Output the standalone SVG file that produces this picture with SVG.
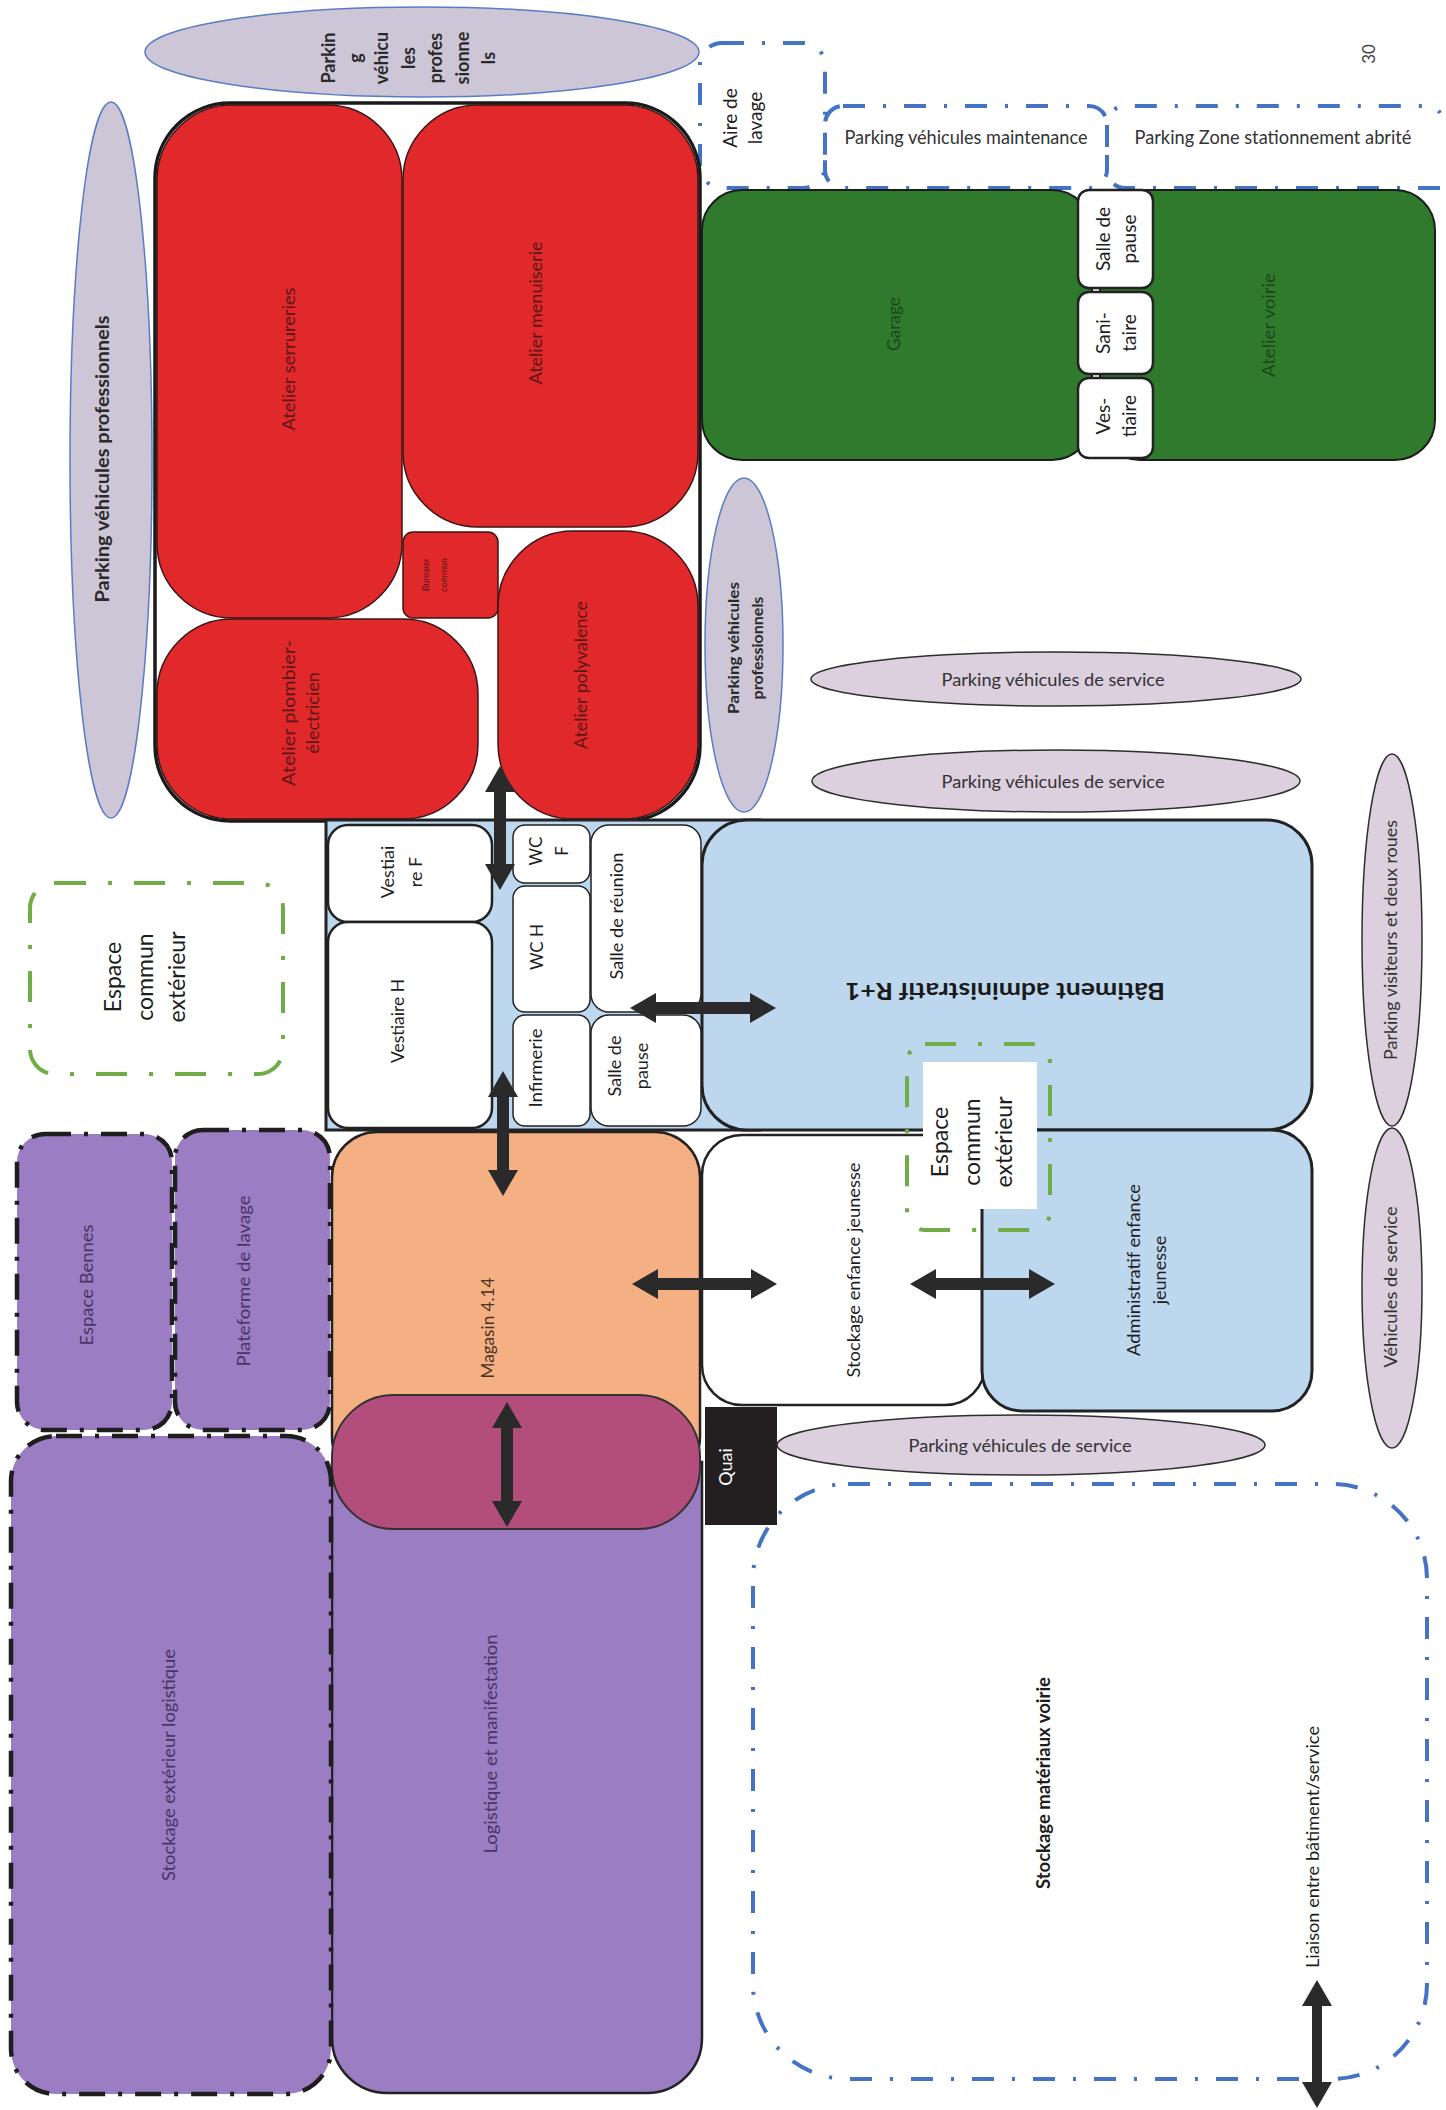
<svg xmlns="http://www.w3.org/2000/svg" width="1446" height="2110" viewBox="0 0 1446 2110">
<defs>
<style>
.t{font-family:Lato,'Liberation Sans',sans-serif;text-anchor:middle;dominant-baseline:central;font-size:18px;fill:#1e1e1e}
.b{font-weight:bold}
.red{fill:#e1282a;stroke:#3b1515;stroke-width:1.5}
.rt{fill:#5e1717}
.grn{fill:#2f7a2d;stroke:#1c1c1c;stroke-width:2}
.gt{fill:#1b481b}
.wbox{fill:#fff;stroke:#222;stroke-width:2}
.lb{fill:#bdd7ee;stroke:#222;stroke-width:3}
.pur{fill:#9b7dc3}
.pdash{stroke:#1e1e1e;stroke-width:4.5;stroke-dasharray:26 13 4 13}
.pt{fill:#4a3366}
.bdash{fill:none;stroke:#4472c4;stroke-width:4;stroke-dasharray:22 18 3 18}
.gdash{fill:none;stroke:#70ad47;stroke-width:4;stroke-dasharray:31 22 4 22}
.pro{fill:#cdc6d7;stroke:#5a7cc4;stroke-width:1.5}
.srv{fill:#dccfde;stroke:#2e2e2e;stroke-width:1.5}
.arr{stroke:#2a2a2a;stroke-width:12;fill:none}
</style>
<marker id="ah" markerUnits="userSpaceOnUse" markerWidth="26" markerHeight="30" refX="0" refY="15" orient="auto-start-reverse" viewBox="0 0 26 30"><path d="M0,0 L26,15 L0,30 Z" fill="#2a2a2a"/></marker>
</defs>
<rect width="1446" height="2110" fill="#fff"/>

<g id="page-number"><text class="t" transform="translate(1368 54) rotate(-90)" style="fill:#444;font-size:17px">30</text></g>

<g id="parking-pro-top">
<ellipse class="pro" cx="422" cy="52" rx="277" ry="45"/>
<text class="t b" transform="translate(408 58) rotate(-90)" style="font-size:18px;fill:#2a2a2a"><tspan x="0" dy="-80">Parkin</tspan><tspan x="0" dy="26.7">g</tspan><tspan x="0" dy="26.7">véhicu</tspan><tspan x="0" dy="26.7">les</tspan><tspan x="0" dy="26.7">profes</tspan><tspan x="0" dy="26.7">sionne</tspan><tspan x="0" dy="26.7">ls</tspan></text>
</g>

<g id="parking-pro-left">
<ellipse class="pro" cx="111" cy="460" rx="41" ry="358"/>
<text class="t b" transform="translate(102 459) rotate(-90)" style="font-size:18px;fill:#2a2a2a" textLength="287" lengthAdjust="spacingAndGlyphs">Parking véhicules professionnels</text>
</g>

<g id="parking-pro-small">
<ellipse class="pro" cx="744" cy="645" rx="39" ry="167"/>
<text class="t b" transform="translate(744 648) rotate(-90)" style="font-size:16px;fill:#2a2a2a"><tspan x="0" dy="-12" textLength="132" lengthAdjust="spacingAndGlyphs">Parking véhicules</tspan><tspan x="0" dy="24">professionnels</tspan></text>
</g>

<g id="parking-service-1">
<ellipse class="srv" cx="1056" cy="679" rx="245" ry="27"/>
<text class="t" x="1053" y="679" style="fill:#333" textLength="223" lengthAdjust="spacingAndGlyphs">Parking véhicules de service</text>
</g>
<g id="parking-service-2">
<ellipse class="srv" cx="1056" cy="781" rx="244" ry="31"/>
<text class="t" x="1053" y="781" style="fill:#333" textLength="223" lengthAdjust="spacingAndGlyphs">Parking véhicules de service</text>
</g>
<g id="parking-service-3">
<ellipse class="srv" cx="1021" cy="1445" rx="244" ry="30"/>
<text class="t" x="1020" y="1445" style="fill:#333" textLength="223" lengthAdjust="spacingAndGlyphs">Parking véhicules de service</text>
</g>

<g id="parking-visiteurs">
<ellipse class="srv" cx="1392" cy="940" rx="30" ry="186"/>
<text class="t" transform="translate(1390 940) rotate(-90)" style="fill:#333" textLength="240" lengthAdjust="spacingAndGlyphs">Parking visiteurs et deux roues</text>
</g>
<g id="vehicules-service">
<ellipse class="srv" cx="1392" cy="1288" rx="30" ry="160"/>
<text class="t" transform="translate(1390 1287) rotate(-90)" style="fill:#333" textLength="161" lengthAdjust="spacingAndGlyphs">Véhicules de service</text>
</g>

<g id="aire-lavage">
<rect class="bdash" x="700" y="43" width="125" height="145" rx="22" style="fill:#fff"/>
<text class="t" transform="translate(741 118) rotate(-90)" style="font-size:19px"><tspan x="0" dy="-12.5">Aire de</tspan><tspan x="0" dy="25">lavage</tspan></text>
</g>
<g id="parking-maintenance">
<rect class="bdash" x="825" y="106" width="282" height="82" rx="18"/>
<text class="t" x="966" y="136" style="fill:#333;font-size:19px" textLength="243" lengthAdjust="spacingAndGlyphs">Parking véhicules maintenance</text>
</g>
<g id="parking-abrite">
<path class="bdash" d="M1440,188 H1125 A18,18 0 0 1 1107,170 V124 A18,18 0 0 1 1125,106 H1424 A16,16 0 0 1 1440,113"/>
<text class="t" x="1273" y="136" style="fill:#333;font-size:19px" textLength="277" lengthAdjust="spacingAndGlyphs">Parking Zone stationnement abrité</text>
</g>

<g id="ateliers-container">
<rect x="155" y="103" width="545" height="718" rx="75" fill="#fff" stroke="#1a1a1a" stroke-width="3.5"/>
</g>
<g id="atelier-serrureries">
<rect class="red" x="157" y="105" width="245" height="513" rx="75"/>
<text class="t rt" transform="translate(288 359) rotate(-90)" textLength="143" lengthAdjust="spacingAndGlyphs">Atelier serrureries</text>
</g>
<g id="atelier-menuiserie">
<rect class="red" x="403" y="105" width="295" height="422" rx="75"/>
<text class="t rt" transform="translate(535 313) rotate(-90)" textLength="143" lengthAdjust="spacingAndGlyphs">Atelier menuiserie</text>
</g>
<g id="bureaux-commun">
<rect class="red" x="403" y="532" width="95" height="86" rx="10"/>
<text class="t rt" transform="translate(434 575) rotate(-90)" style="font-size:9px"><tspan x="0" dy="-9">Bureaux</tspan><tspan x="0" dy="18">commun</tspan></text>
</g>
<g id="atelier-polyvalence">
<rect class="red" x="498" y="531" width="200" height="288" rx="75"/>
<text class="t rt" transform="translate(580 675) rotate(-90)" textLength="148" lengthAdjust="spacingAndGlyphs">Atelier polyvalence</text>
</g>
<g id="atelier-plombier">
<rect class="red" x="157" y="619" width="321" height="200" rx="75"/>
<text class="t rt" transform="translate(300 713) rotate(-90)"><tspan x="0" dy="-12" textLength="146" lengthAdjust="spacingAndGlyphs">Atelier plombier-</tspan><tspan x="0" dy="24">électricien</tspan></text>
</g>

<g id="garage">
<rect class="grn" x="702" y="190" width="390" height="270" rx="40"/>
<text class="t gt" transform="translate(893 324) rotate(-90)" textLength="54" lengthAdjust="spacingAndGlyphs">Garage</text>
</g>
<g id="atelier-voirie">
<rect class="grn" x="1100" y="190" width="335" height="270" rx="40"/>
<text class="t gt" transform="translate(1268 325) rotate(-90)" textLength="104" lengthAdjust="spacingAndGlyphs">Atelier voirie</text>
</g>
<g id="salle-pause-voirie">
<rect class="wbox" x="1078" y="190" width="75" height="98" rx="11" style="stroke-width:2.5"/>
<text class="t" transform="translate(1115 239) rotate(-90)" style="font-size:19px"><tspan x="0" dy="-13">Salle de</tspan><tspan x="0" dy="26">pause</tspan></text>
</g>
<g id="sanitaire-voirie">
<rect class="wbox" x="1078" y="292" width="75" height="82" rx="11" style="stroke-width:2.5"/>
<text class="t" transform="translate(1115 333) rotate(-90)" style="font-size:19px"><tspan x="0" dy="-13">Sani-</tspan><tspan x="0" dy="26">taire</tspan></text>
</g>
<g id="vestiaire-voirie">
<rect class="wbox" x="1078" y="378" width="75" height="80" rx="11" style="stroke-width:2.5"/>
<text class="t" transform="translate(1115 416) rotate(-90)" style="font-size:19px"><tspan x="0" dy="-13">Ves-</tspan><tspan x="0" dy="26">tiaire</tspan></text>
</g>

<g id="batiment-administratif">
<rect x="326" y="820" width="434" height="310" fill="#bdd7ee" stroke="#222" stroke-width="3"/>
<rect class="lb" x="702" y="820" width="610" height="310" rx="45"/>
<text class="t b" transform="translate(1005 992) rotate(180)" style="font-size:23px;fill:#1a1a1a" textLength="320" lengthAdjust="spacingAndGlyphs">Bâtiment administratif R+1</text>
</g>
<g id="vestiaire-f">
<rect class="wbox" x="328" y="825" width="164" height="97" rx="20" style="stroke-width:2.5"/>
<text class="t" transform="translate(401 872) rotate(-90)"><tspan x="0" dy="-14">Vestiai</tspan><tspan x="0" dy="28">re F</tspan></text>
</g>
<g id="vestiaire-h">
<rect class="wbox" x="328" y="922" width="164" height="206" rx="20" style="stroke-width:2.5"/>
<text class="t" transform="translate(397 1021) rotate(-90)" textLength="84" lengthAdjust="spacingAndGlyphs">Vestiaire H</text>
</g>
<g id="wc-f">
<rect class="wbox" x="513" y="825" width="77" height="58" rx="12" style="stroke-width:1.5"/>
<text class="t" transform="translate(548 851) rotate(-90)" style="font-size:17px"><tspan x="0" dy="-13">WC</tspan><tspan x="0" dy="26">F</tspan></text>
</g>
<g id="wc-h">
<rect class="wbox" x="513" y="886" width="77" height="126" rx="12" style="stroke-width:1.5"/>
<text class="t" transform="translate(536 947) rotate(-90)" style="font-size:17px">WC H</text>
</g>
<g id="infirmerie">
<rect class="wbox" x="513" y="1015" width="77" height="111" rx="12" style="stroke-width:1.5"/>
<text class="t" transform="translate(535 1068) rotate(-90)" textLength="79" lengthAdjust="spacingAndGlyphs">Infirmerie</text>
</g>
<g id="salle-reunion">
<rect class="wbox" x="591" y="825" width="110" height="187" rx="18" style="stroke-width:1.5"/>
<text class="t" transform="translate(616 916) rotate(-90)" textLength="127" lengthAdjust="spacingAndGlyphs">Salle de réunion</text>
</g>
<g id="salle-pause">
<rect class="wbox" x="591" y="1015" width="110" height="111" rx="18" style="stroke-width:1.5"/>
<text class="t" transform="translate(627 1066) rotate(-90)"><tspan x="0" dy="-13.5">Salle de</tspan><tspan x="0" dy="27">pause</tspan></text>
</g>

<g id="magasin">
<rect x="332" y="1132" width="368" height="350" rx="45" fill="#f4b083" stroke="#222" stroke-width="2.5"/>
<text class="t" transform="translate(487 1328) rotate(-90)" style="fill:#4a3222" textLength="101" lengthAdjust="spacingAndGlyphs">Magasin 4.14</text>
</g>
<g id="logistique">
<path d="M332,1462 H702 V2038 A55,55 0 0 1 647,2093 H387 A55,55 0 0 1 332,2038 Z" fill="#9b7dc3" stroke="#222" stroke-width="2.5"/>
<text class="t pt" transform="translate(490 1744) rotate(-90)" textLength="219" lengthAdjust="spacingAndGlyphs">Logistique et manifestation</text>
</g>
<g id="zone-quai-interne">
<rect x="332" y="1395" width="368" height="134" rx="62" fill="#b34d7c" stroke="#333" stroke-width="2"/>
</g>
<g id="quai">
<rect x="705" y="1407" width="72" height="118" fill="#231f20"/>
<text class="t" transform="translate(725 1467) rotate(-90)" style="fill:#fff">Quai</text>
</g>

<g id="stockage-enfance">
<rect x="702" y="1135" width="283" height="270" rx="40" fill="#fff" stroke="#222" stroke-width="2.5"/>
<text class="t" transform="translate(853 1270) rotate(-90)" textLength="215" lengthAdjust="spacingAndGlyphs">Stockage enfance jeunesse</text>
</g>
<g id="administratif-enfance">
<rect class="lb" x="982" y="1130" width="330" height="281" rx="40"/>
<text class="t" transform="translate(1146 1270) rotate(-90)"><tspan x="0" dy="-13" textLength="172" lengthAdjust="spacingAndGlyphs">Administratif enfance</tspan><tspan x="0" dy="26">jeunesse</tspan></text>
</g>

<g id="espace-commun-centre">
<rect class="gdash" x="907" y="1044" width="143" height="186" rx="18"/>
<rect x="923" y="1062" width="114" height="147" fill="#fff"/>
<text class="t" transform="translate(971 1142) rotate(-90)" style="font-size:23px"><tspan x="0" dy="-32">Espace</tspan><tspan x="0" dy="32">commun</tspan><tspan x="0" dy="32">extérieur</tspan></text>
</g>

<g id="espace-commun-gauche">
<rect class="gdash" x="30" y="883" width="253" height="191" rx="25"/>
<text class="t" transform="translate(144 977) rotate(-90)" style="font-size:23px"><tspan x="0" dy="-32">Espace</tspan><tspan x="0" dy="32">commun</tspan><tspan x="0" dy="32">extérieur</tspan></text>
</g>

<g id="espace-bennes">
<rect class="pur pdash" x="17" y="1134" width="155" height="296" rx="28"/>
<text class="t pt" transform="translate(86 1285) rotate(-90)" textLength="121" lengthAdjust="spacingAndGlyphs">Espace Bennes</text>
</g>
<g id="plateforme-lavage">
<rect class="pur pdash" x="175" y="1130" width="155" height="300" rx="28"/>
<text class="t pt" transform="translate(243 1281) rotate(-90)" textLength="171" lengthAdjust="spacingAndGlyphs">Plateforme de lavage</text>
</g>
<g id="stockage-exterieur">
<rect class="pur pdash" x="11" y="1436" width="320" height="658" rx="45"/>
<text class="t pt" transform="translate(168 1765) rotate(-90)" textLength="232" lengthAdjust="spacingAndGlyphs">Stockage extérieur logistique</text>
</g>

<g id="stockage-voirie">
<rect class="bdash" x="753" y="1484" width="674" height="595" rx="95"/>
<text class="t b" transform="translate(1043 1783) rotate(-90)" textLength="212" lengthAdjust="spacingAndGlyphs">Stockage matériaux voirie</text>
</g>

<g id="connectors">
<line class="arr" x1="500" y1="792" x2="500" y2="864" marker-start="url(#ah)" marker-end="url(#ah)"/>
<line class="arr" x1="503" y1="1097" x2="503" y2="1170" marker-start="url(#ah)" marker-end="url(#ah)"/>
<line class="arr" x1="656" y1="1008" x2="750" y2="1008" marker-start="url(#ah)" marker-end="url(#ah)"/>
<line class="arr" x1="658" y1="1284" x2="751" y2="1284" marker-start="url(#ah)" marker-end="url(#ah)"/>
<line class="arr" x1="936" y1="1284" x2="1029" y2="1284" marker-start="url(#ah)" marker-end="url(#ah)"/>
<line class="arr" x1="507" y1="1428" x2="507" y2="1501" marker-start="url(#ah)" marker-end="url(#ah)"/>
<line class="arr" x1="1317" y1="2006" x2="1317" y2="2082" style="stroke-width:10" marker-start="url(#ah)" marker-end="url(#ah)"/>
</g>

<g id="legende">
<text class="t" transform="translate(1312 1847) rotate(-90)" textLength="242" lengthAdjust="spacingAndGlyphs">Liaison entre bâtiment/service</text>
</g>
</svg>
